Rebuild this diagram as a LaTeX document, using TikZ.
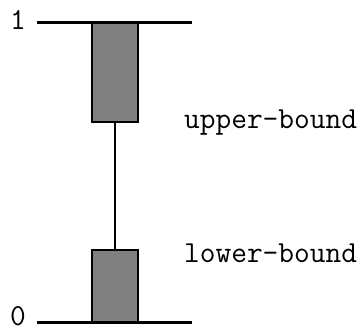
\documentclass[tikz,border=0pt]{standalone}
\usepackage{fontspec}

\begin{document}
\begin{tikzpicture}[
    x=1pt, y=-1pt,
    bar/.style={rectangle, draw, line width=2pt, fill=gray, minimum width=46pt, inner sep=0pt},
    axis/.style={line width=3pt},
    label/.style={font=\ttfamily\fontsize{30.5}{32}\selectfont, inner sep=0pt}
]
\useasboundingbox (0,0) rectangle (360,331);

% Nodes
\node[bar, minimum height=99pt] (upper) at (115, 72.5) {};
\node[bar, minimum height=73pt] (lower) at (115, 286.5) {};
\coordinate (t0) at (37, 23);
\coordinate (t1) at (192, 23);
\coordinate (b0) at (37, 323);
\coordinate (b1) at (192, 323);
\node[label, anchor=base] (one) at (18, 30) {1};
\node[label, anchor=base] (zero) at (18, 326) {0};
\node[label, anchor=base west] (ub) at (184, 129) {upper-bound};
\node[label, anchor=base west] (lb) at (184, 263) {lower-bound};

% Lines
\draw[axis] (t0) -- (t1);
\draw[axis] (b0) -- (b1);
\draw[line width=2pt] (upper.south) -- (lower.north);

\end{tikzpicture}
\end{document}
